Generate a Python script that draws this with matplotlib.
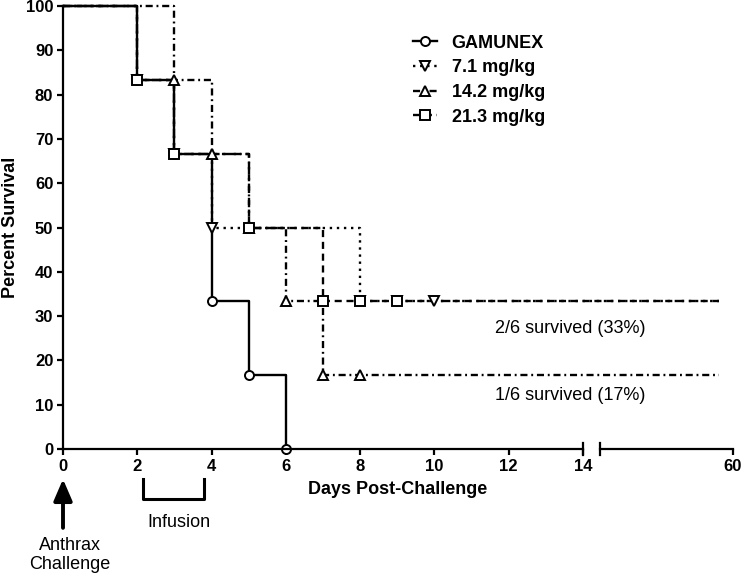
"""Kaplan-Meier style survival after anthrax challenge, broken x axis (0-14 | 60)."""
import matplotlib
matplotlib.use("Agg")
import matplotlib.pyplot as plt
from matplotlib.lines import Line2D
import numpy as np

plt.rcParams["font.family"] = ["Liberation Sans", "DejaVu Sans"]
plt.rcParams["axes.linewidth"] = 1.6

# --- data (days, percent survival) ---
labels = ["GAMUNEX", "7.1 mg/kg", "14.2 mg/kg", "21.3 mg/kg"]

gam_days = [0, 2, 3, 4, 5, 6]
gam_surv = [100, 83.3, 66.7, 33.3, 16.7, 0]
d7_days = [0, 2, 3, 4, 8, 55]
d7_surv = [100, 83.3, 66.7, 50, 33.3, 33.3]
d14_days = [0, 3, 4, 5, 6, 7, 55]
d14_surv = [100, 83.3, 66.7, 50, 33.3, 16.7, 16.7]
d21_days = [0, 2, 3, 5, 7, 55]
d21_surv = [100, 83.3, 66.7, 50, 33.3, 33.3]

# symbol positions (events + censor marks)
gam_mk_days = [2, 3, 4, 5, 6]
gam_mk = [83.3, 66.7, 33.3, 16.7, 0]
d7_mk_days = [2, 3, 4, 8, 9, 10]
d7_mk = [83.3, 66.7, 50, 33.3, 33.3, 33.3]
d14_mk_days = [3, 4, 5, 6, 7, 8]
d14_mk = [83.3, 66.7, 50, 33.3, 16.7, 16.7]
d21_mk_days = [2, 3, 5, 7, 8, 9]
d21_mk = [83.3, 66.7, 50, 33.3, 33.3, 33.3]

xticks = [0, 2, 4, 6, 8, 10, 12, 14, 60]
yticks = list(range(0, 101, 10))

# --- broken x scale: 0-14 linear, small gap, then 14-60 compressed ---
BRK, XMAX = 14.0, 60.0
PX_PER_DAY = 520 / 14
GAP = 17 / PX_PER_DAY
SEG2 = 133 / PX_PER_DAY


def fwd(x):
    x = np.asarray(x, float)
    return np.where(x <= BRK, x, BRK + GAP + (x - BRK) * SEG2 / (XMAX - BRK))


def inv(v):
    v = np.asarray(v, float)
    return np.where(v <= BRK, v,
                    np.where(v < BRK + GAP, BRK,
                             BRK + (v - BRK - GAP) * (XMAX - BRK) / SEG2))


W, H = 742, 576
fig = plt.figure(figsize=(W / 100, H / 100), dpi=100)
ax = fig.add_axes([63 / W, 1 - 449 / H, 670 / W, 443 / H])
ax.set_xscale("function", functions=(fwd, inv))

LW = 1.7
styles = [
    dict(ls="-", marker="o"),
    dict(ls=(0, (1, 2)), marker="v"),
    dict(ls=(0, (3, 1.6, 0.8, 1.6)), marker="^"),
    dict(ls=(0, (3, 2)), marker="s"),
]
series = [(gam_days, gam_surv, gam_mk_days, gam_mk),
          (d7_days, d7_surv, d7_mk_days, d7_mk),
          (d14_days, d14_surv, d14_mk_days, d14_mk),
          (d21_days, d21_surv, d21_mk_days, d21_mk)]

for (dx, dy, mx, my), st in zip(series, styles):
    ax.plot(dx, dy, drawstyle="steps-post", color="black", lw=LW,
            ls=st["ls"], clip_on=False, zorder=3)
for (dx, dy, mx, my), st in zip(series, styles):
    ax.plot(mx, my, ls="none", marker=st["marker"], ms=6.5, mfc="white",
            mec="black", mew=1.4, clip_on=False, zorder=4)

ax.set_xlim(0, XMAX)
ax.set_ylim(0, 100)
ax.set_xticks(xticks)
ax.set_xticklabels([str(t) for t in xticks])
ax.xaxis.set_minor_locator(matplotlib.ticker.NullLocator())
ax.set_yticks(yticks)
ax.tick_params(direction="out", length=4, width=1.6, labelsize=12, pad=3)
for lab in ax.get_xticklabels() + ax.get_yticklabels():
    lab.set_fontweight("bold")

# broken bottom axis
for s in ("top", "right", "bottom"):
    ax.spines[s].set_visible(False)
xt = ax.get_xaxis_transform()
ax.plot([0, BRK], [0, 0], color="black", lw=1.6, transform=xt, clip_on=False, zorder=5)
ax.plot([BRK + 1e-6, XMAX], [0, 0], color="black", lw=1.6, transform=xt, clip_on=False, zorder=5)
for xc in (BRK, BRK + 1e-6):
    ax.plot([xc, xc], [-0.014, 0.014], color="black", lw=1.6, transform=xt,
            clip_on=False, zorder=5)

ax.set_xlabel("Days Post-Challenge", fontsize=13, fontweight="bold")
ax.xaxis.set_label_coords(0.5, -0.072)
ax.set_ylabel("Percent Survival", fontsize=13, fontweight="bold")
ax.yaxis.set_label_coords(-0.066, 0.5)

handles = [Line2D([], [], color="black", lw=LW, ls=st["ls"], marker=st["marker"],
                  ms=6.5, mfc="white", mec="black", mew=1.4) for st in styles]
ax.legend(handles, labels, loc="upper left", bbox_to_anchor=(0.522, 0.935),
          frameon=False, prop=dict(size=13, weight="bold"), handlelength=1.35,
          handletextpad=0.8, labelspacing=0.42, borderpad=0, borderaxespad=0)

ax.text(13.65, 27.1, "2/6 survived (33%)", ha="center", va="center", fontsize=13)
ax.text(13.65, 12.0, "1/6 survived (17%)", ha="center", va="center", fontsize=13)

# annotations below the axis
ax.annotate("", xy=(0, -0.068), xytext=(0, -0.178), xycoords=xt, textcoords=xt,
            arrowprops=dict(arrowstyle="-|>,head_length=0.65,head_width=0.28",
                            lw=2.8, color="black", mutation_scale=20,
                            shrinkA=0, shrinkB=0), annotation_clip=False)
ax.text(0.19, -0.239, "Anthrax\nChallenge", transform=xt, ha="center", va="center",
        fontsize=13, linespacing=1.1)
ax.plot([2.154, 2.154, 3.797, 3.797], [-0.0677, -0.1129, -0.1129, -0.0677],
        color="black", lw=2.2, transform=xt, clip_on=False)
ax.text(3.12, -0.167, "Infusion", transform=xt, ha="center", va="center", fontsize=13)

fig.savefig("out.png", dpi=100)
